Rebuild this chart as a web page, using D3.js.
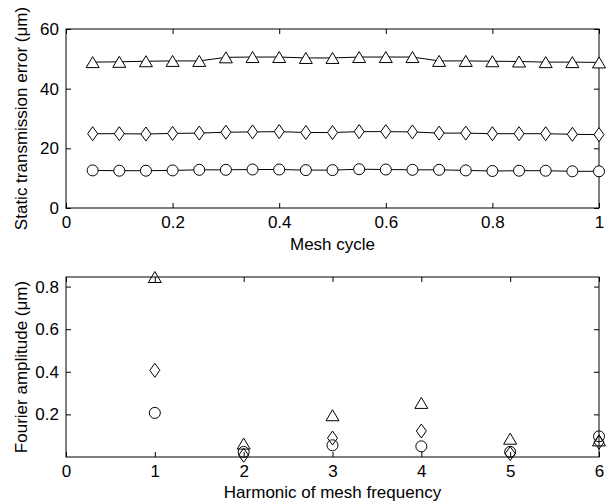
<!DOCTYPE html>
<html>
<head>
<meta charset="utf-8">
<script src="https://cdn.jsdelivr.net/npm/d3@7"></script>
<style>
  body { margin: 0; background: #fff; }
  text { font-family: "Liberation Sans", Arial, sans-serif; fill: #000; }
  .tick text { font-size: 17px; }
  .labels { font-size: 17px; }
</style>
</head>
<body>
<div id="chart"></div>
<script>
// mesh cycle positions and static transmission error for the three load cases
var cycle = [0.05, 0.1, 0.15, 0.2, 0.25, 0.3, 0.35, 0.4, 0.45, 0.5,
             0.55, 0.6, 0.65, 0.7, 0.75, 0.8, 0.85, 0.9, 0.95, 1.0]
var ste_tri = [48.9, 49.0, 49.2, 49.3, 49.3, 50.5, 50.6, 50.6, 50.3, 50.3,
               50.6, 50.6, 50.6, 49.3, 49.3, 49.2, 49.1, 48.9, 48.9, 48.8]
var ste_dia = [24.9, 24.9, 24.8, 25.0, 25.1, 25.4, 25.5, 25.6, 25.3, 25.3,
               25.6, 25.6, 25.5, 25.1, 25.1, 24.9, 24.9, 24.9, 24.7, 24.6]
var ste_cir = [12.6, 12.5, 12.5, 12.6, 12.8, 12.8, 12.9, 12.9, 12.7, 12.7,
               13.0, 12.9, 12.8, 12.8, 12.6, 12.4, 12.5, 12.5, 12.3, 12.3]

// harmonic number and fourier amplitudes
var harmonic = [1, 2, 3, 4, 5, 6]
var amp_tri = [0.845, 0.063, 0.196, 0.254, 0.086, 0.078]
var amp_dia = [0.407, 0.008, 0.089, 0.122, 0.016, 0.070]
var amp_cir = [0.207, 0.024, 0.055, 0.050, 0.024, 0.097]

var top_xticks = [0, 0.2, 0.4, 0.6, 0.8, 1]
var top_yticks = [0, 20, 40, 60]
var bot_xticks = [0, 1, 2, 3, 4, 5, 6]
var bot_yticks = [0.2, 0.4, 0.6, 0.8]

var width = 609, height = 504
var left = 66, right = 599
var tick_len = 5

var svg = d3.select("#chart")
  .append("svg")
    .attr("width", width)
    .attr("height", height)

// matlab-like marker shapes
var triangle = { draw: function(ctx, size) {
  var w = 6.5, h = 5.5
  ctx.moveTo(0, -h); ctx.lineTo(w, h); ctx.lineTo(-w, h); ctx.closePath()
}}
var diamond = { draw: function(ctx, size) {
  var w = 5, h = 7
  ctx.moveTo(0, -h); ctx.lineTo(w, 0); ctx.lineTo(0, h); ctx.lineTo(-w, 0); ctx.closePath()
}}
var circle = { draw: function(ctx, size) {
  ctx.moveTo(5.5, 0); ctx.arc(0, 0, 5.5, 0, 2 * Math.PI)
}}

function draw_axes(g, xScale, yScale, xticks, yticks, xfmt, yfmt) {
  var y0 = yScale.range()[0], y1 = yScale.range()[1]
  var x0 = xScale.range()[0], x1 = xScale.range()[1]

  g.append("g")
    .attr("transform", "translate(0," + y0 + ")")
    .call(d3.axisBottom(xScale).tickValues(xticks).tickFormat(xfmt)
      .tickSizeInner(-tick_len).tickSizeOuter(0).tickPadding(8))
  g.append("g")
    .attr("transform", "translate(0," + y1 + ")")
    .call(d3.axisTop(xScale).tickValues(xticks).tickFormat("")
      .tickSizeInner(-tick_len).tickSizeOuter(0))
  g.append("g")
    .attr("transform", "translate(" + x0 + ",0)")
    .call(d3.axisLeft(yScale).tickValues(yticks).tickFormat(yfmt)
      .tickSizeInner(-tick_len).tickSizeOuter(0).tickPadding(7))
  g.append("g")
    .attr("transform", "translate(" + x1 + ",0)")
    .call(d3.axisRight(yScale).tickValues(yticks).tickFormat("")
      .tickSizeInner(-tick_len).tickSizeOuter(0))

  g.selectAll(".domain").remove()
  g.selectAll(".tick line").attr("stroke", "#000")
  g.selectAll(".tick text").attr("fill", "#000")

  g.append("rect")
    .attr("x", x0).attr("y", y1)
    .attr("width", x1 - x0).attr("height", y0 - y1)
    .attr("fill", "none").attr("stroke", "#000").attr("stroke-width", 1)
}

function fmt(d) { return String(d) }

// ---------- top panel ----------
var top_y = [29, 208]
var xTop = d3.scaleLinear().domain([0, 1]).range([left, right])
var yTop = d3.scaleLinear().domain([0, 60]).range([top_y[1], top_y[0]])

var g1 = svg.append("g")
draw_axes(g1, xTop, yTop, top_xticks, top_yticks, fmt, fmt)

var series_top = [[ste_tri, triangle], [ste_dia, diamond], [ste_cir, circle]]
var line = d3.line()
  .x(function(d, i) { return xTop(cycle[i]) })
  .y(function(d) { return yTop(d) })

series_top.forEach(function(s) {
  g1.append("path")
    .datum(s[0])
    .attr("d", line)
    .attr("fill", "none")
    .attr("stroke", "#000")
    .attr("stroke-width", 1)
  g1.selectAll(null)
    .data(s[0])
    .enter()
    .append("path")
    .attr("d", d3.symbol().type(s[1]))
    .attr("transform", function(d, i) { return "translate(" + xTop(cycle[i]) + "," + yTop(d) + ")" })
    .attr("fill", "#fff")
    .attr("stroke", "#000")
    .attr("stroke-width", 1)
})

g1.append("text")
  .attr("class", "labels")
  .attr("x", (left + right) / 2)
  .attr("y", top_y[1] + 42)
  .attr("text-anchor", "middle")
  .text("Mesh cycle")

g1.append("text")
  .attr("class", "labels")
  .attr("transform", "translate(27," + (top_y[0] + top_y[1]) / 2 + ")rotate(-90)")
  .attr("text-anchor", "middle")
  .text("Static transmission error (\u03bcm)")

// ---------- bottom panel ----------
var bot_y = [277, 457]
var xBot = d3.scaleLinear().domain([0, 6]).range([left, right])
var yBot = d3.scaleLinear().domain([0, 0.845]).range([bot_y[1], bot_y[0]])

var g2 = svg.append("g")
draw_axes(g2, xBot, yBot, bot_xticks, bot_yticks, fmt, fmt)

var series_bot = [[amp_tri, triangle], [amp_dia, diamond], [amp_cir, circle]]
series_bot.forEach(function(s) {
  g2.selectAll(null)
    .data(s[0])
    .enter()
    .append("path")
    .attr("d", d3.symbol().type(s[1]))
    .attr("transform", function(d, i) { return "translate(" + xBot(harmonic[i]) + "," + yBot(d) + ")" })
    .attr("fill", "none")
    .attr("stroke", "#000")
    .attr("stroke-width", 1)
})

g2.append("text")
  .attr("class", "labels")
  .attr("x", (left + right) / 2)
  .attr("y", bot_y[1] + 41)
  .attr("text-anchor", "middle")
  .text("Harmonic of mesh frequency")

g2.append("text")
  .attr("class", "labels")
  .attr("transform", "translate(27," + (bot_y[0] + bot_y[1]) / 2 + ")rotate(-90)")
  .attr("text-anchor", "middle")
  .text("Fourier amplitude (\u03bcm)")
</script>
</body>
</html>
